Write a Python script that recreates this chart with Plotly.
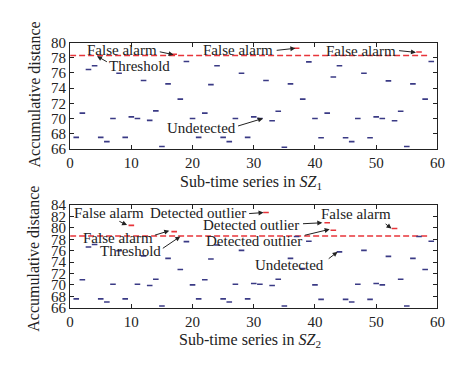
import plotly.graph_objects as go

# ---------------- data ----------------
sub_series = list(range(1, 60))

sz1_distance = [67.5, 70.7, 76.45, 76.95, 67.5, 66.95, 70.0, 75.95, 67.5, 70.2,
                70.0, 75.0, 69.75, 71.0, 66.3, 74.55, 78.45, 72.55, 77.5, 70.0,
                67.5, 70.7, 74.45, 76.95, 67.5, 66.95, 70.0, 75.95, 67.5, 70.2,
                70.0, 75.0, 69.7, 70.95, 66.2, 74.55, 79.25, 72.55, 77.45, 70.0,
                67.45, 70.7, 75.45, 76.95, 67.45, 66.95, 70.0, 75.95, 67.45, 70.2,
                70.0, 74.95, 69.7, 70.95, 66.3, 74.55, 78.75, 72.55, 77.5]
sz1_threshold = 78.3

sz2_distance = [67.55, 70.9, 76.65, 77.1, 67.55, 67.0, 70.1, 76.0, 67.55, 80.45,
                70.1, 75.1, 69.9, 71.0, 66.3, 74.65, 79.35, 72.7, 77.6, 70.0,
                67.55, 70.9, 74.55, 77.0, 67.55, 67.0, 70.1, 76.05, 67.55, 70.25,
                70.1, 82.7, 69.9, 71.0, 66.3, 74.65, 78.5, 72.85, 77.65, 70.0,
                67.45, 80.9, 79.6, 75.8, 67.45, 67.0, 70.1, 76.05, 67.45, 70.25,
                70.0, 75.0, 79.9, 71.0, 66.3, 74.65, 78.5, 72.7, 77.65]
sz2_threshold = 78.6

threshold_span = [0, 58.7]
x_ticks = [0, 10, 20, 30, 40, 50, 60]
sz1_y_ticks = [66, 68, 70, 72, 74, 76, 78, 80]
sz2_y_ticks = [66, 68, 70, 72, 74, 76, 78, 80, 82, 84]

BLUE = "#3a3a85"
RED = "#e8343a"
FONT = "Liberation Serif"

W, H = 474, 377
OFF = 8  # page body margin of the browser


def px(x):
    return (x - OFF) / W


def py(y):
    return 1 - (y - OFF) / H


fig = go.Figure()


def add_panel(dist, thr, xa, ya):
    nx = [x for x, d in zip(sub_series, dist) if d <= thr]
    ny = [d for d in dist if d <= thr]
    rx = [x for x, d in zip(sub_series, dist) if d > thr]
    ry = [d for d in dist if d > thr]
    fig.add_trace(go.Scatter(x=threshold_span, y=[thr, thr], mode="lines",
                             line=dict(color=RED, width=1.5, dash="6px,3px"),
                             xaxis=xa, yaxis=ya, showlegend=False, hoverinfo="skip"))
    fig.add_trace(go.Scatter(x=nx, y=ny, mode="markers",
                             marker=dict(symbol="line-ew", size=4,
                                         line=dict(color=BLUE, width=1.6)),
                             xaxis=xa, yaxis=ya, showlegend=False))
    fig.add_trace(go.Scatter(x=rx, y=ry, mode="markers",
                             marker=dict(symbol="line-ew", size=4,
                                         line=dict(color=RED, width=1.6)),
                             xaxis=xa, yaxis=ya, showlegend=False))


add_panel(sz1_distance, sz1_threshold, "x", "y")
add_panel(sz2_distance, sz2_threshold, "x2", "y2")

axis_common = dict(showline=True, linecolor="#222", linewidth=1, mirror="ticks",
                   ticks="inside", ticklen=4, tickcolor="#222", showgrid=False,
                   zeroline=False, tickfont=dict(family=FONT, size=15, color="#222"))

fig.update_layout(
    width=W, height=H,
    margin=dict(l=0, r=0, t=0, b=0),
    paper_bgcolor="white", plot_bgcolor="white",
    xaxis=dict(domain=[px(67.5), px(443.5)], range=[0, 60], tickvals=x_ticks,
               anchor="y", **axis_common),
    yaxis=dict(domain=[py(146.7), py(35.7)], range=[66, 80], tickvals=sz1_y_ticks,
               anchor="x", **axis_common),
    xaxis2=dict(domain=[px(67.5), px(443.5)], range=[0, 60], tickvals=x_ticks,
                anchor="y2", **axis_common),
    yaxis2=dict(domain=[py(312.6), py(205.5)], range=[66, 84], tickvals=sz2_y_ticks,
                anchor="x2", **axis_common),
)

tfont = dict(family=FONT, size=15, color="#222")
ann = []


def label(text, x, y, xr, yr):
    ann.append(dict(text=text, x=x, y=y, xref=xr, yref=yr, showarrow=False,
                    font=tfont, xanchor="center", yanchor="middle"))


def arrow(tx, ty, hx, hy, xr, yr):
    ann.append(dict(text="", x=hx, y=hy, ax=tx, ay=ty, xref=xr, yref=yr,
                    axref=xr, ayref=yr, showarrow=True, arrowhead=2,
                    arrowsize=1, arrowwidth=1, arrowcolor="#222"))


# top panel
label("False alarm", 8.54, 79.04, "x", "y")
arrow(14.4, 78.82, 16.9, 78.4, "x", "y")
label("Threshold", 11.3, 76.85, "x", "y")
arrow(6.25, 77.35, 4.4, 78.2, "x", "y")
label("False alarm", 27.4, 79.07, "x", "y")
arrow(33.5, 78.95, 36.8, 79.24, "x", "y")
label("False alarm", 47.6, 78.82, "x", "y")
arrow(53.5, 78.95, 56.5, 78.7, "x", "y")
label("Undetected", 21.5, 68.74, "x", "y")
arrow(27.2, 68.95, 31.5, 70.0, "x", "y")

# bottom panel
label("False alarm", 6.33, 82.57, "x2", "y2")
arrow(7.8, 81.28, 9.3, 80.5, "x2", "y2")
label("False alarm", 7.8, 78.3, "x2", "y2")
arrow(13.6, 78.65, 16.2, 79.5, "x2", "y2")
label("Threshold", 9.94, 75.97, "x2", "y2")
arrow(14.9, 76.24, 18.0, 78.5, "x2", "y2")
label("Detected outlier", 20.9, 82.69, "x2", "y2")
arrow(29.0, 82.5, 31.6, 82.69, "x2", "y2")
label("Detected outlier", 29.6, 80.44, "x2", "y2")
arrow(37.8, 80.72, 41.2, 80.9, "x2", "y2")
label("Detected outlier", 30.0, 77.65, "x2", "y2")
arrow(38.1, 78.65, 42.4, 79.76, "x2", "y2")
label("Undetected", 35.9, 73.5, "x2", "y2")
arrow(42.0, 74.4, 43.7, 75.8, "x2", "y2")
label("False alarm", 46.75, 82.4, "x2", "y2")
arrow(51.3, 80.9, 52.5, 79.9, "x2", "y2")

# axis titles
title_font = dict(family=FONT, size=16, color="#222")
ann.append(dict(text="Sub-time series in <i>SZ</i><sub>1</sub>", x=px(252.5), y=py(181.7),
                xref="paper", yref="paper", showarrow=False, font=title_font,
                xanchor="center", yanchor="middle"))
ann.append(dict(text="Sub-time series in <i>SZ</i><sub>2</sub>", x=px(251.7), y=py(346.7),
                xref="paper", yref="paper", showarrow=False, font=title_font,
                xanchor="center", yanchor="middle"))
ann.append(dict(text="Accumulative distance", x=px(31), y=py(89.5), textangle=-90,
                xref="paper", yref="paper", showarrow=False, font=title_font,
                xanchor="center", yanchor="middle"))
ann.append(dict(text="Accumulative distance", x=px(30), y=py(261), textangle=-90,
                xref="paper", yref="paper", showarrow=False, font=title_font,
                xanchor="center", yanchor="middle"))

fig.update_layout(annotations=ann)
fig.write_html("out.html")
